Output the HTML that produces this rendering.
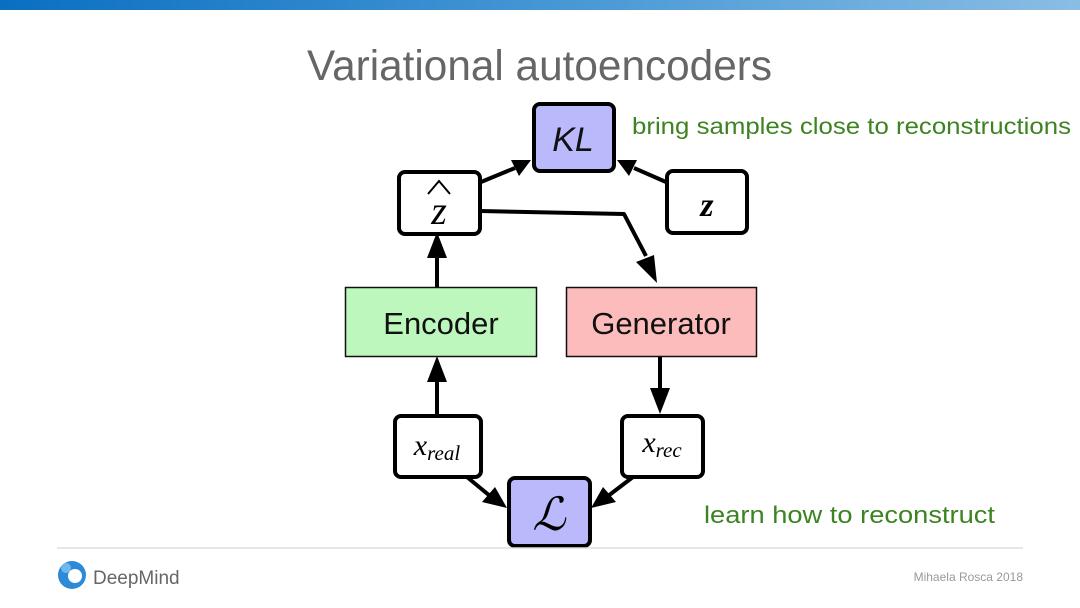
<!DOCTYPE html>
<html><head><meta charset="utf-8"><style>
html,body{margin:0;padding:0;background:#fff;}
svg{display:block;}
</style></head><body>
<svg width="1080" height="608" viewBox="0 0 1080 608" xmlns="http://www.w3.org/2000/svg">
<defs>
<linearGradient id="g" x1="0" x2="1" y1="0" y2="0">
<stop offset="0" stop-color="#0a6fc2"/><stop offset="0.55" stop-color="#4a9ad6"/><stop offset="1" stop-color="#8bbde4"/>
</linearGradient>
</defs>
<rect x="0" y="0" width="1080" height="10" fill="url(#g)"/>
<text x="307" y="80" font-family="Liberation Sans, sans-serif" font-size="43" fill="#666" textLength="465" lengthAdjust="spacingAndGlyphs">Variational autoencoders</text>
<text x="632" y="134" font-family="Liberation Sans, sans-serif" font-size="23" fill="#3d8322" textLength="439" lengthAdjust="spacingAndGlyphs">bring samples close to reconstructions</text>
<text x="704" y="523" font-family="Liberation Sans, sans-serif" font-size="24" fill="#3d8322" textLength="291" lengthAdjust="spacingAndGlyphs">learn how to reconstruct</text>

<g stroke="#000" stroke-width="4" fill="none" stroke-linejoin="round">
<line x1="481" y1="182" x2="515" y2="168"/>
<line x1="666" y1="182" x2="634" y2="168"/>
<polyline points="480,211 624,214 646,256"/>
<line x1="437" y1="287" x2="437" y2="256"/>
<line x1="437" y1="414" x2="437" y2="380"/>
<line x1="660" y1="357" x2="660" y2="390"/>
<line x1="467" y1="477" x2="490" y2="496"/>
<line x1="633" y1="477" x2="608" y2="496"/>
</g>
<g fill="#000">
<polygon points="531,160 511,160 519,176"/>
<polygon points="617,160 637,160 629,176"/>
<polygon points="657,283 636,262 654,255"/>
<polygon points="437,232 427,258 447,258"/>
<polygon points="437,356 427,382 447,382"/>
<polygon points="660,414 650,388 670,388"/>
<polygon points="507,508 482,502 495,487"/>
<polygon points="591,508 616,502 603,487"/>
</g>

<g stroke="#000" stroke-width="4">
<rect x="534" y="104" width="80" height="67" rx="6" fill="#b9b9fb"/>
<rect x="399" y="172" width="81" height="62" rx="6" fill="#fff"/>
<rect x="667" y="171" width="80" height="62" rx="6" fill="#fff"/>
<rect x="395" y="416" width="86" height="61" rx="6" fill="#fff"/>
<rect x="622" y="416" width="81" height="61" rx="6" fill="#fff"/>
<rect x="509" y="478" width="81" height="68" rx="6" fill="#b9b9fb"/>
</g>
<g stroke="#111" stroke-width="1.5">
<rect x="345.5" y="287.5" width="191" height="69" fill="#bdf7bd"/>
<rect x="566.5" y="287.5" width="190" height="69" fill="#fcbcbc"/>
</g>
<g font-family="Liberation Sans, sans-serif" font-size="31" fill="#111" text-anchor="middle">
<text x="441" y="334">Encoder</text>
<text x="661" y="334">Generator</text>
<text x="573" y="151" font-style="italic" font-size="34">KL</text>
</g>
<polyline points="428,194 439,181 450,194" fill="none" stroke="#000" stroke-width="2"/>
<g font-family="Liberation Serif, serif" font-style="italic" fill="#000" text-anchor="middle">
<text x="439" y="224" font-size="40">z</text>
<text x="707" y="216" font-size="34" font-weight="bold">z</text>
<text x="437" y="455" font-size="30">x<tspan font-size="21" dy="5">real</tspan></text>
<text x="662" y="452" font-size="30">x<tspan font-size="21" dy="5">rec</tspan></text>
<text x="549" y="530" font-size="46" font-family="DejaVu Serif, serif">ℒ</text>
</g>

<line x1="57" y1="548" x2="1023" y2="548" stroke="#ddd" stroke-width="1.5"/>
<circle cx="72" cy="575" r="14" fill="#2c8ad6"/>
<circle cx="75" cy="576" r="7" fill="#fff"/>
<circle cx="66" cy="568" r="5" fill="#6fb8ee"/>
<text x="93" y="584" font-family="Liberation Sans, sans-serif" font-size="19" fill="#666">DeepMind</text>
<text x="1023" y="581" text-anchor="end" font-family="Liberation Sans, sans-serif" font-size="12" fill="#999">Mihaela Rosca 2018</text>
</svg>
</body></html>
